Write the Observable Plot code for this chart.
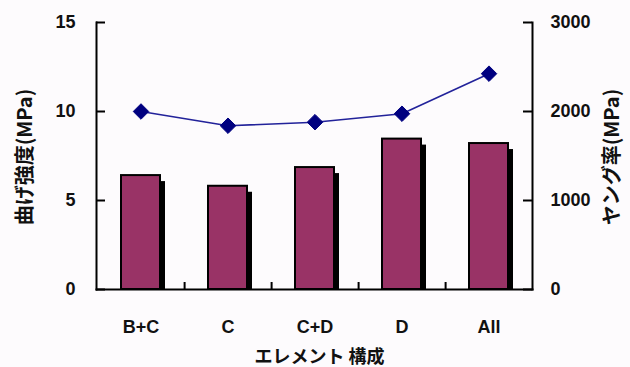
<!DOCTYPE html>
<html>
<head>
<meta charset="utf-8">
<script src="https://cdn.jsdelivr.net/npm/d3@7"></script>
<script src="https://cdn.jsdelivr.net/npm/@observablehq/plot@0.6"></script>
<style>
  html, body { margin: 0; padding: 0; background: #fdfbfd; }
</style>
</head>
<body>
<div id="chart"></div>
<script>
const categories = ["B+C", "C", "C+D", "D", "All"];
const strength = [6.4, 5.8, 6.85, 8.45, 8.2];       // 曲げ強度 (MPa), left axis
const modulus = [2000, 1840, 1880, 1975, 2425];     // ヤング率 (MPa), right axis
const leftTicks = [0, 5, 10, 15];
const rightTicks = [0, 1000, 2000, 3000];
const leftLabel = "曲げ強度(MPa)";
const rightLabel = "ヤング率(MPa)";
const xLabel = "エレメント 構成";

const ratio = 3000 / 15;
const data = categories.map((c, i) => ({cat: c, s: strength[i], m: modulus[i]}));

const W = 630, H = 367;
const mL = 96, mR = 98, mT = 22, mB = 78;
const frameW = W - mL - mR, frameH = H - mT - mB;
const step = frameW / categories.length;
const cjk = "'Noto Sans CJK JP', sans-serif";

const plot = Plot.plot({
  width: W,
  height: H,
  marginLeft: mL,
  marginRight: mR,
  marginTop: mT,
  marginBottom: mB,
  style: {background: "#fdfbfd", fontFamily: "'Liberation Sans', Arial, 'Noto Sans CJK JP', sans-serif", fontSize: "18px", fontWeight: "bold", color: "#111"},
  x: {domain: categories, paddingInner: 0.553, paddingOuter: 0.2765, axis: null},
  y: {domain: [0, 15], axis: null},
  marks: [
    // shadows
    Plot.barY(data, {x: "cat", y: "s", fill: "black", dx: 5, insetTop: 6}),
    // bars
    Plot.barY(data, {x: "cat", y: "s", fill: "#993366", stroke: "black", strokeWidth: 2}),
    // line + markers
    Plot.line(data, {x: "cat", y: d => d.m / ratio, stroke: "#22229a", strokeWidth: 1.6}),
    Plot.dot(data, {x: "cat", y: d => d.m / ratio, symbol: "diamond2", r: 7, fill: "#000080", stroke: "#000080", strokeWidth: 1}),
    // axis lines
    Plot.frame({anchor: "left", stroke: "black", strokeWidth: 2}),
    Plot.frame({anchor: "right", stroke: "black", strokeWidth: 2}),
    Plot.frame({anchor: "bottom", stroke: "black", strokeWidth: 2}),
    // inward ticks
    Plot.tickY(leftTicks, {y: d => d, insetRight: frameW - 9, stroke: "black", strokeWidth: 2}),
    Plot.tickY(rightTicks.map(v => v / ratio), {y: d => d, insetLeft: frameW - 9, stroke: "black", strokeWidth: 2}),
    Plot.ruleX(categories.slice(0, -1), {x: d => d, dx: step / 2, insetTop: frameH - 7, stroke: "black", strokeWidth: 2}),
    // axes labels
    Plot.axisY(leftTicks, {anchor: "left", tickSize: 0, tickPadding: 21, label: null, fill: "#111"}),
    Plot.axisY(rightTicks.map(v => v / ratio), {anchor: "right", tickSize: 0, tickPadding: 18, tickFormat: d => String(Math.round(d * ratio)), label: null, fill: "#111"}),
    Plot.axisX({tickSize: 0, tickPadding: 31, label: null, fill: "#111"}),
    // titles
    Plot.text([leftLabel], {frameAnchor: "left", textAnchor: "middle", lineAnchor: "middle", rotate: -90, dx: -71, dy: 1, fontSize: 20, fill: "#111", fontFamily: cjk}),
    Plot.text([rightLabel], {frameAnchor: "right", textAnchor: "middle", lineAnchor: "middle", rotate: -90, dx: 80, dy: 1, fontSize: 20, fill: "#111", fontFamily: cjk}),
    Plot.text([xLabel], {frameAnchor: "bottom", textAnchor: "middle", lineAnchor: "middle", dx: 5, dy: 68, fontSize: 18, fill: "#111", fontFamily: cjk})
  ]
});
document.getElementById("chart").appendChild(plot);
</script>
</body>
</html>
